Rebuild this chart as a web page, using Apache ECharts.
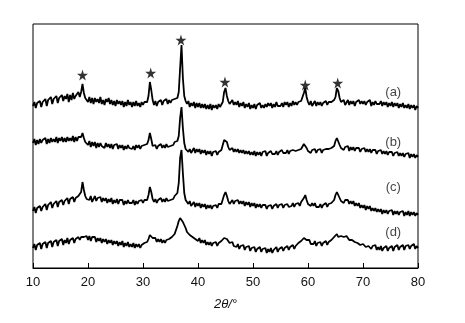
<!DOCTYPE html>
<html>
<head>
<meta charset="UTF-8">
<title>XRD</title>
<style>
  body { margin: 0; background: #fff; }
  #chart { width: 465px; height: 323px; }
</style>
</head>
<body>
<div id="chart"></div>
<script src="https://cdn.jsdelivr.net/npm/echarts@6/dist/echarts.min.js"></script>
<script>
// 2theta grid: 10..80 deg, 0.25 deg step (one row = one degree)
const thetaStart = 10;
const thetaStep = 0.25;

// traces as drawn (offset intensity, a.u.)
const traceA = [
  162,166,160,165, 163,167,161,166, 164,169,162,168, 166,171,164,169, 167,172,165,170,
  168,173,167,172, 169,174,166,173, 168,175,169,172, 170,176,171,176, 184,175,170,168,
  166,171,165,170, 164,170,166,169, 165,171,164,168, 163,169,166,170, 164,168,163,167,
  162,168,164,167, 163,167,161,166, 162,168,163,166, 161,166,162,167, 162,165,161,166,
  163,166,164,166, 172,186,178,168, 163,167,162,166, 164,168,163,167, 165,169,164,168,
  165,168,166,169, 168,170,176,200, 223,190,172,167, 164,167,161,165, 162,166,160,165,
  161,165,160,164, 160,164,159,163, 159,164,158,163, 160,163,159,164, 161,163,166,176,
  180,172,167,164, 165,168,163,166, 163,167,161,165, 162,166,160,164, 161,165,159,163,
  160,164,159,163, 161,165,160,163, 160,164,161,165, 162,165,160,164, 161,166,162,164,
  162,165,161,166, 163,166,161,165, 162,167,163,166, 163,166,164,167, 168,175,180,171,
  166,163,167,162, 164,167,162,166, 163,166,162,165, 164,167,163,166, 164,166,165,168,
  171,180,177,170, 166,164,168,163, 165,168,163,167, 164,167,162,166, 165,168,164,167,
  164,167,163,166, 165,168,162,166, 163,167,164,166, 164,167,162,166, 163,166,161,165,
  162,166,161,165, 162,165,160,164, 161,165,160,163, 160,164,159,163, 160,163,158,162,
  160
];
const traceB = [
  125,129,123,128, 124,129,125,128, 126,130,124,129, 125,130,126,129, 126,131,125,130,
  127,131,126,130, 126,131,127,130, 127,132,126,131, 127,131,129,131, 135,130,126,124,
  123,127,121,126, 122,126,120,125, 121,125,122,124, 120,125,121,124, 120,124,119,123,
  121,124,119,123, 120,123,118,122, 119,123,120,122, 119,122,118,123, 120,123,119,122,
  121,123,122,124, 128,135,129,122, 120,123,119,122, 121,124,120,123, 120,124,121,123,
  122,124,123,126, 124,127,132,150, 161,140,125,119, 118,116,119,115, 117,120,115,119,
  116,119,114,118, 115,118,113,117, 114,117,112,116, 114,117,113,116, 115,118,120,128,
  130,126,121,118, 118,120,116,119, 116,119,115,118, 115,118,114,117, 114,117,113,116,
  113,117,112,116, 113,116,112,116, 114,117,112,115, 113,117,114,116, 114,117,113,116,
  114,118,115,117, 115,118,114,117, 115,118,116,117, 116,118,117,119, 118,124,126,120,
  117,119,115,118, 116,119,115,118, 116,119,115,118, 116,119,117,119, 117,120,119,122,
  127,130,128,123, 120,122,118,121, 119,122,117,121, 118,121,117,120, 118,120,116,119,
  117,120,116,119, 116,119,115,118, 116,118,114,117, 115,118,114,117, 114,117,113,116,
  114,116,112,115, 113,116,112,115, 112,115,111,114, 112,115,110,114, 111,114,110,113,
  111
];
const traceC = [
  57,61,55,60, 58,62,57,61, 60,64,58,63, 61,66,60,64, 63,67,61,66,
  64,68,63,67, 66,70,64,69, 67,71,66,70, 68,72,71,76, 86,78,72,69,
  71,68,72,66, 69,72,67,70, 68,71,66,70, 67,70,65,69, 66,70,64,68,
  65,69,64,68, 66,68,63,67, 64,68,65,67, 65,68,63,67, 64,67,65,68,
  65,68,66,68, 73,81,76,69, 66,69,65,68, 67,70,66,69, 66,70,67,69,
  68,70,69,72, 72,75,85,110, 118,95,75,68, 66,64,67,62, 64,66,61,65,
  62,65,60,64, 61,64,59,63, 60,63,59,62, 61,63,60,64, 62,64,66,73,
  76,72,67,64, 66,68,64,67, 65,68,64,67, 64,67,62,66, 63,66,61,65,
  62,65,60,64, 61,64,60,63, 61,63,59,62, 60,63,59,62, 60,64,60,63,
  61,64,60,63, 62,64,61,63, 62,65,61,64, 63,65,62,66, 67,70,73,68,
  64,66,62,65, 62,65,61,63, 61,64,60,63, 62,65,61,64, 63,65,66,68,
  73,76,74,70, 67,69,65,68, 66,68,64,67, 64,67,62,65, 62,65,60,63,
  60,63,58,62, 59,62,57,60, 57,60,56,59, 56,59,54,58, 55,58,54,57,
  55,58,53,57, 54,57,53,56, 54,57,52,56, 53,57,52,56, 53,56,52,55,
  53
];
const traceD = [
  20,24,18,23, 21,25,19,24, 22,26,20,25, 23,27,21,26, 24,28,22,27,
  25,29,23,28, 25,30,24,28, 26,30,25,29, 27,31,28,31, 33,31,29,32,
  28,32,27,31, 29,31,26,30, 27,30,25,29, 26,29,24,28, 25,28,23,27,
  24,27,22,26, 23,27,21,25, 22,26,21,24, 21,25,20,24, 21,24,20,23,
  22,25,23,26, 29,33,33,30, 28,30,26,29, 26,29,25,28, 25,28,26,29,
  28,31,30,34, 38,42,47,50, 49,46,43,40, 36,38,33,34, 31,33,29,31,
  27,30,25,28, 25,28,23,26, 23,26,22,25, 23,26,22,25, 24,27,28,30,
  31,29,27,25, 24,26,22,24, 21,24,19,22, 20,23,18,21, 19,22,17,20,
  18,21,16,19, 17,21,16,19, 17,20,15,19, 16,20,15,18, 17,21,16,19,
  18,21,17,20, 19,22,18,21, 20,23,19,22, 22,25,24,27, 28,30,30,28,
  26,28,24,26, 24,27,22,25, 23,26,22,25, 24,27,23,26, 26,28,29,31,
  32,34,31,33, 32,34,31,33, 32,31,28,30, 28,30,26,28, 25,27,23,25,
  24,26,21,23, 22,24,19,22, 20,23,18,21, 18,22,17,20, 18,22,17,20,
  19,22,17,21, 19,23,18,21, 20,23,18,22, 20,23,19,22, 20,24,19,22,
  20
];

// star markers above reflections
const starX = [19, 31.4, 36.9, 44.9, 59.5, 65.4];
const starY = [193, 195, 228, 186, 183, 185];

// sample labels
const sampleNames = ['(a)', '(b)', '(c)', '(d)'];
const labelX = [75.5, 75.5, 75.5, 75.5];
const labelY = [176, 126, 81, 36];

const xTicks = [10, 20, 30, 40, 50, 60, 70, 80];

function toPairs(arr) {
  return arr.map(function (v, i) { return [thetaStart + i * thetaStep, v]; });
}

const chart = echarts.init(document.getElementById('chart'));
const font = 'Liberation Sans, Arial, sans-serif';
const traces = [traceA, traceB, traceC, traceD];

const series = traces.map(function (t) {
  return {
    type: 'line',
    data: toPairs(t),
    showSymbol: false,
    symbol: 'none',
    lineStyle: { color: '#000', width: 1.8 },
    animation: false,
    z: 2
  };
});

series.push({
  type: 'scatter',
  data: starX.map(function (x, i) { return [x, starY[i]]; }),
  symbol: 'path://M50,0 L61,35 L98,35 L68,57 L79,91 L50,70 L21,91 L32,57 L2,35 L39,35 Z',
  symbolSize: 11,
  itemStyle: { color: '#000' },
  animation: false,
  z: 3
});

series.push({
  type: 'scatter',
  data: labelX.map(function (x, i) { return [x, labelY[i]]; }),
  symbolSize: 0,
  label: {
    show: true,
    position: 'inside',
    formatter: function (p) { return sampleNames[p.dataIndex]; },
    color: '#111',
    fontSize: 13,
    fontFamily: font
  },
  animation: false,
  z: 4
});

chart.setOption({
  backgroundColor: '#fff',
  animation: false,
  grid: {
    left: 33, right: 47, top: 24, bottom: 55,
    show: true, borderColor: '#000', borderWidth: 1
  },
  xAxis: {
    type: 'value',
    min: xTicks[0],
    max: xTicks[xTicks.length - 1],
    interval: 10,
    axisLine: { lineStyle: { color: '#000', width: 1 } },
    axisTick: { inside: true, length: 5, lineStyle: { color: '#000' } },
    splitLine: { show: false },
    axisLabel: { color: '#111', fontSize: 13, fontFamily: font, margin: 8 },
    name: '{n|2}{i|θ}{n|/°}',
    nameLocation: 'middle',
    nameGap: 30,
    nameTextStyle: {
      rich: {
        n: { fontSize: 13, fontFamily: font, color: '#111', fontStyle: 'italic' },
        i: { fontSize: 13, fontFamily: font, color: '#111', fontStyle: 'italic' }
      }
    }
  },
  yAxis: {
    type: 'value',
    min: 0,
    max: 244,
    show: false
  },
  series: series
});
</script>
</body>
</html>
